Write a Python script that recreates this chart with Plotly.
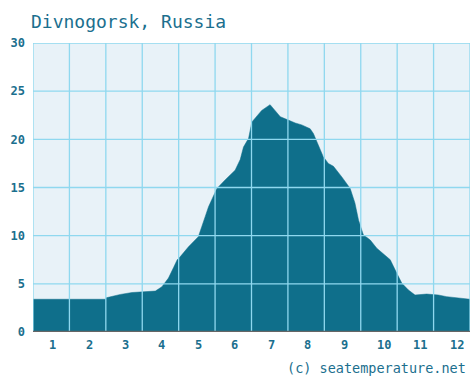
import plotly.graph_objects as go

# Average sea temperature through the year (x = month position, 0..12)
month_pos = [0.00, 2.00, 2.01, 2.40, 2.72, 3.36, 3.54, 3.72, 3.86, 3.96, 4.04,
             4.27, 4.54, 4.64, 4.73, 4.82, 5.05, 5.28, 5.55, 5.69, 5.78, 5.92,
             6.01, 6.10, 6.28, 6.51, 6.65, 6.79, 7.01, 7.20, 7.38, 7.61, 7.70,
             7.84, 7.97, 8.11, 8.25, 8.48, 8.71, 8.84, 8.94, 9.07, 9.26, 9.44,
             9.67, 9.81, 9.99, 10.13, 10.31, 10.49, 10.81, 11.13, 11.36, 11.68,
             12.00]
temperature = [3.4, 3.4, 3.55, 3.9, 4.1, 4.25, 4.7, 5.6, 6.7, 7.5, 7.8,
               8.85, 9.9, 10.9, 12.0, 13.0, 14.9, 15.8, 16.8, 17.9, 19.2, 20.1,
               21.8, 22.2, 23.0, 23.6, 23.0, 22.35, 22.0, 21.7, 21.5, 21.1, 20.6,
               19.4, 18.2, 17.5, 17.2, 16.1, 14.9, 13.4, 11.6, 10.1, 9.55, 8.7,
               8.0, 7.5, 6.1, 5.05, 4.36, 3.84, 3.94, 3.84, 3.67, 3.5,
               3.4]

month_centers = [0.5, 1.5, 2.5, 3.5, 4.5, 5.5, 6.5, 7.5, 8.5, 9.5, 10.5, 11.5]
month_labels = ["1", "2", "3", "4", "5", "6", "7", "8", "9", "10", "11", "12"]
y_ticks = [0, 5, 10, 15, 20, 25, 30]

FILL = "#0f6f8b"
TEXT = "#1b6f8e"
GRID = "#8fd8ef"
BG = "#e8f2f8"
MONO = "DejaVu Sans Mono"

fig = go.Figure()
fig.add_trace(go.Scatter(
    x=month_pos, y=temperature, mode="lines", fill="tozeroy",
    line=dict(color=FILL, width=0.5), fillcolor=FILL, hoverinfo="skip",
))

# grid drawn over the filled area
shapes = []
for gx in range(0, 13):
    shapes.append(dict(type="line", xref="x", yref="y", x0=gx, x1=gx, y0=0, y1=30,
                       line=dict(color=GRID, width=1.3), layer="above"))
for gy in y_ticks[1:]:
    shapes.append(dict(type="line", xref="x", yref="y", x0=0, x1=12, y0=gy, y1=gy,
                       line=dict(color=GRID, width=1.3), layer="above"))
shapes.append(dict(type="line", xref="x", yref="y", x0=0, x1=12, y0=0, y1=0,
                   line=dict(color="#666666", width=2.5), layer="above"))

# month labels start at the middle of each month
annotations = [
    dict(text=lab, xref="x", yref="paper", x=mx, y=0, yshift=-13,
         xanchor="left", yanchor="middle", xshift=-4, showarrow=False,
         font=dict(family=MONO, size=12, color=TEXT, weight="bold"))
    for mx, lab in zip(month_centers, month_labels)
]
annotations += [
    dict(text="Divnogorsk, Russia", xref="paper", yref="paper",
         x=-0.01, y=1.0, yshift=22, xanchor="left", yanchor="middle",
         showarrow=False, font=dict(family=MONO, size=18, color=TEXT)),
    dict(text="(c) seatemperature.net", xref="paper", yref="paper",
         x=1.0, y=0, xanchor="right", yanchor="middle", yshift=-36, xshift=-2,
         showarrow=False, font=dict(family=MONO, size=13.5, color=TEXT)),
]

fig.update_layout(
    width=470, height=376,
    margin=dict(l=33, r=0, t=43, b=44),
    paper_bgcolor="white", plot_bgcolor=BG,
    showlegend=False,
    shapes=shapes,
    annotations=annotations,
    xaxis=dict(range=[0, 12], showticklabels=False,
               showgrid=False, zeroline=False, showline=False, ticks=""),
    yaxis=dict(range=[0, 30], tickvals=y_ticks, showgrid=False, zeroline=False,
               showline=False, ticks="", ticklabelstandoff=7,
               tickfont=dict(family=MONO, size=12, color=TEXT, weight="bold")),
)

fig.write_html("out.html")
